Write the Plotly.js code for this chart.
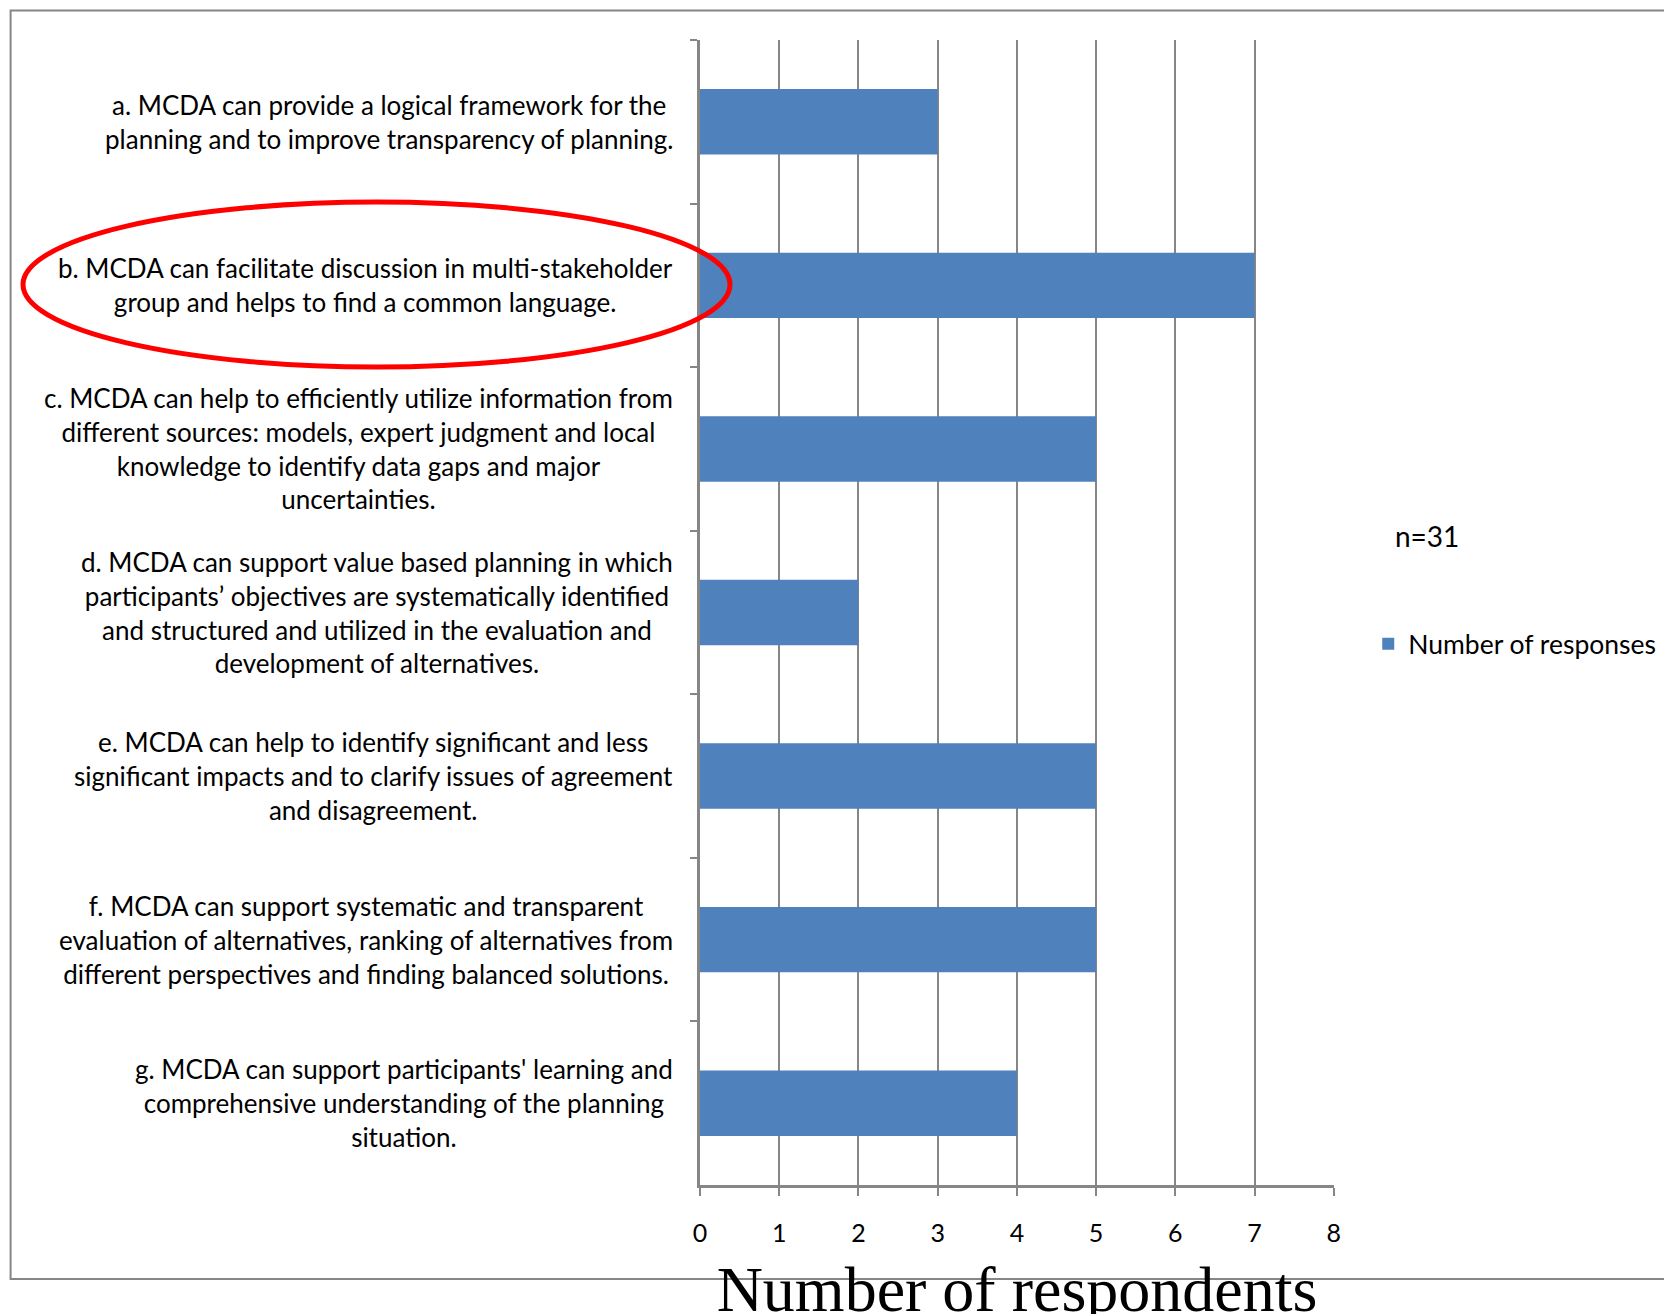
<!DOCTYPE html>
<html>
<head>
<meta charset="utf-8">
<script src="https://cdn.plot.ly/plotly-3.0.1.min.js"></script>
<style>
  html, body { margin: 0; padding: 0; background: #ffffff; overflow: hidden; }
  #chart { width: 1664px; height: 1330px; }
</style>
</head>
<body>
<div id="chart"></div>
<script>
// ---- data ----
const categories = [
  "a. MCDA can provide a logical framework for the<br>planning and to improve transparency of planning.",
  "b. MCDA can facilitate discussion in multi-stakeholder<br>group and helps to find a common language.",
  "c. MCDA can help to efficiently utilize information from<br>different sources: models, expert judgment and local<br>knowledge to identify data gaps and major<br>uncertainties.",
  "d. MCDA can support value based planning in which<br>participants’ objectives are systematically identified<br>and structured and utilized in the evaluation and<br>development of alternatives.",
  "e. MCDA can help to identify significant and less<br>significant impacts and to clarify issues of agreement<br>and disagreement.",
  "f. MCDA can support systematic and transparent<br>evaluation of alternatives, ranking of alternatives from<br>different perspectives and finding balanced solutions.",
  "g. MCDA can support participants' learning and<br>comprehensive understanding of the planning<br>situation."
];
const responses = [3, 7, 5, 2, 5, 5, 4];
const xTickValues = [0, 1, 2, 3, 4, 5, 6, 7, 8];
const seriesName = "Number of responses";
const xAxisTitle = "Number of respondents";
const noteText = "n=31";

const labelFont = "Lato, 'Liberation Sans', sans-serif";
const gray = "#868686";

const trace = {
  type: "bar",
  orientation: "h",
  x: responses,
  y: categories,
  name: seriesName,
  width: 0.4,
  marker: { color: "#4f81bd", line: { width: 0 } },
  showlegend: true,
  hoverinfo: "x"
};

const annotations = categories.map(c => ({
  xref: "paper", yref: "y",
  x: -0.039, y: c,
  xanchor: "right", yanchor: "middle",
  align: "center",
  showarrow: false,
  text: c,
  font: { family: labelFont, size: 26, color: "#000000" }
}));
annotations.push({
  xref: "paper", yref: "paper",
  x: 1.1467, y: 0.5668,
  xanchor: "center", yanchor: "middle",
  showarrow: false,
  text: noteText,
  font: { family: labelFont, size: 28, color: "#000000" }
});

const layout = {
  width: 1664,
  height: 1330,
  margin: { l: 700, r: 330, t: 40, b: 145, pad: 0, autoexpand: false },
  paper_bgcolor: "#ffffff",
  plot_bgcolor: "#ffffff",
  showlegend: true,
  legend: {
    x: 1.054, y: 0.4725, xanchor: "left", yanchor: "middle",
    font: { family: labelFont, size: 26.5, color: "#000000" },
    bgcolor: "rgba(0,0,0,0)"
  },
  xaxis: {
    range: [0, 8.003],
    tickvals: xTickValues,
    ticktext: xTickValues.map(String),
    showgrid: true,
    gridcolor: gray,
    gridwidth: 2,
    zeroline: false,
    showline: true,
    linecolor: gray,
    linewidth: 3,
    ticks: "outside",
    ticklen: 8,
    tickwidth: 2,
    tickcolor: gray,
    ticklabelstandoff: 16,
    tickfont: { family: labelFont, size: 25, color: "#000000" },
    automargin: false,
    title: {
      text: xAxisTitle,
      font: { family: "'Liberation Serif', 'Times New Roman', serif", size: 64, color: "#000000" },
      standoff: 21
    },
    fixedrange: true
  },
  yaxis: {
    type: "category",
    categoryorder: "array",
    categoryarray: categories,
    autorange: "reversed",
    tickson: "boundaries",
    showticklabels: false,
    showgrid: false,
    zeroline: false,
    showline: true,
    linecolor: gray,
    linewidth: 3,
    ticks: "outside",
    ticklen: 7,
    tickwidth: 2,
    tickcolor: gray,
    automargin: false,
    fixedrange: true
  },
  annotations: annotations,
  shapes: [
    {
      type: "rect", xref: "paper", yref: "paper",
      x0: -1.0874, x1: 1.56, y0: -0.0821, y1: 1.0257,
      line: { color: gray, width: 2 },
      fillcolor: "rgba(0,0,0,0)",
      layer: "below"
    },
    {
      type: "circle", xref: "paper", yref: "paper",
      x0: -1.0678, x1: 0.0473, y0: 0.7144, y1: 0.8585,
      line: { color: "#ff0000", width: 5 },
      fillcolor: "rgba(0,0,0,0)",
      layer: "above"
    }
  ]
};

Plotly.newPlot("chart", [trace], layout, { displayModeBar: false, staticPlot: true });
</script>
</body>
</html>
